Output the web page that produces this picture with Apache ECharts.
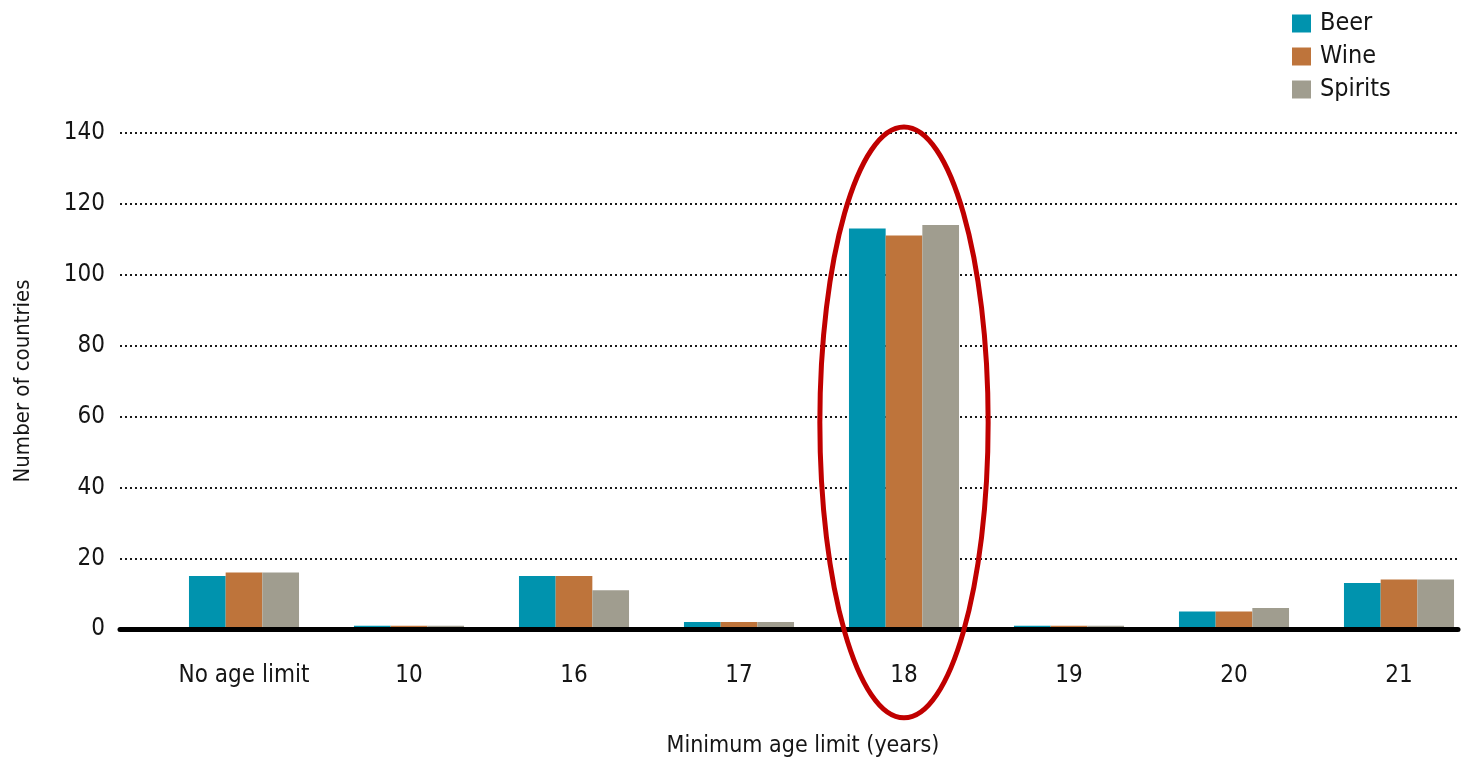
<!DOCTYPE html>
<html>
<head>
<meta charset="utf-8">
<script src="https://cdn.jsdelivr.net/npm/echarts@6/dist/echarts.min.js"></script>
<style>
  html, body { margin: 0; padding: 0; background: #ffffff; }
  #chart { width: 1461px; height: 761px; }
</style>
</head>
<body>
<div id="chart"></div>
<script>
// Minimum legal age for purchasing alcohol, number of countries per age limit
const categories = ['No age limit', '10', '16', '17', '18', '19', '20', '21'];
const beer    = [15, 1, 15, 2, 113, 1, 5, 13];
const wine    = [16, 1, 15, 2, 111, 1, 5, 14];
const spirits = [16, 1, 11, 2, 114, 1, 6, 14];
const yTicks  = { min: 0, max: 140, interval: 20 };

// Highlighted group: ellipse centre and extent in data units
const highlight = { category: '18', centerValue: 58.3, halfSpanValue: 83.3, halfWidthBands: 0.51 };

const FONT = "'Liberation Sans Narrow', 'DejaVu Sans Condensed', 'Roboto Condensed', sans-serif";
const TEXT = '#151515';

const chart = echarts.init(document.getElementById('chart'), null, { renderer: 'canvas' });

const plotTop = 132.7;
const plotBottom = 761 - 629.2;

const option = {
  backgroundColor: '#ffffff',
  animation: false,
  textStyle: { fontFamily: FONT },
  title: {
    text: 'Minimum age limit (years)',
    left: 798,
    top: 730,
    textAlign: 'center',
    textStyle: { fontFamily: FONT, fontSize: 23, fontWeight: 'normal', color: TEXT }
  },
  legend: {
    orient: 'vertical',
    left: 1292,
    top: 11,
    padding: 0,
    itemWidth: 19,
    itemHeight: 18,
    itemGap: 8,
    icon: 'rect',
    textStyle: { fontFamily: FONT, fontSize: 25, color: TEXT, padding: [0, 0, 0, 4] },
    data: ['Beer', 'Wine', 'Spirits']
  },
  grid: [
    // bars
    { left: 161.5, width: 1320, top: plotTop, bottom: plotBottom, outerBoundsMode: 'none', containLabel: false },
    // frame: dotted gridlines, baseline, y labels
    { left: 120, right: 3, top: plotTop, bottom: plotBottom, outerBoundsMode: 'none', containLabel: false }
  ],
  xAxis: [
    {
      type: 'category',
      gridIndex: 0,
      data: categories,
      axisLine: { show: false },
      axisTick: { show: false },
      axisLabel: { fontFamily: FONT, fontSize: 24, color: TEXT, margin: 35, interval: 0 },
      splitLine: { show: false }
    },
    {
      type: 'value',
      gridIndex: 1,
      min: 0, max: 1,
      z: 5,
      axisLine: { show: true, onZero: false, lineStyle: { color: '#000000', width: 5 } },
      axisTick: { show: false },
      axisLabel: { show: false },
      splitLine: { show: false }
    }
  ],
  yAxis: [
    {
      type: 'value',
      gridIndex: 0,
      min: yTicks.min, max: yTicks.max, interval: yTicks.interval,
      axisLine: { show: false },
      axisTick: { show: false },
      axisLabel: { show: false },
      splitLine: { show: false }
    },
    {
      type: 'value',
      gridIndex: 1,
      min: yTicks.min, max: yTicks.max, interval: yTicks.interval,
      name: 'Number of countries',
      nameLocation: 'middle',
      nameRotate: 90,
      nameGap: 86,
      nameTextStyle: { fontFamily: FONT, fontSize: 22, color: TEXT },
      axisLine: { show: false },
      axisTick: { show: false },
      axisLabel: { fontFamily: FONT, fontSize: 24, color: TEXT, margin: 15 },
      splitLine: { show: true, lineStyle: { color: '#1a1a1a', width: 2, type: [2, 3] } }
    }
  ],
  series: [
    { name: 'Beer', type: 'bar', xAxisIndex: 0, yAxisIndex: 0, data: beer,
      barGap: '0%', barCategoryGap: '33.3%', itemStyle: { color: '#0093AE' } },
    { name: 'Wine', type: 'bar', xAxisIndex: 0, yAxisIndex: 0, data: wine,
      barGap: '0%', barCategoryGap: '33.3%', itemStyle: { color: '#BE743B' } },
    { name: 'Spirits', type: 'bar', xAxisIndex: 0, yAxisIndex: 0, data: spirits,
      barGap: '0%', barCategoryGap: '33.3%', itemStyle: { color: '#A09D8F' } }
  ]
};

chart.setOption(option);

// Red ellipse around the highlighted age group, placed through the axes
function drawHighlight() {
  const c = chart.convertToPixel({ xAxisIndex: 0, yAxisIndex: 0 }, [highlight.category, highlight.centerValue]);
  const top = chart.convertToPixel({ yAxisIndex: 0 }, highlight.centerValue + highlight.halfSpanValue);
  const next = chart.convertToPixel({ xAxisIndex: 0 }, categories[categories.indexOf(highlight.category) + 1]);
  const band = next - c[0];
  chart.setOption({
    graphic: [{
      type: 'ellipse',
      z: 10,
      shape: { cx: c[0], cy: c[1], rx: band * highlight.halfWidthBands, ry: c[1] - top },
      style: { fill: 'none', stroke: '#C00000', lineWidth: 5 }
    }]
  });
}
drawHighlight();
</script>
</body>
</html>
